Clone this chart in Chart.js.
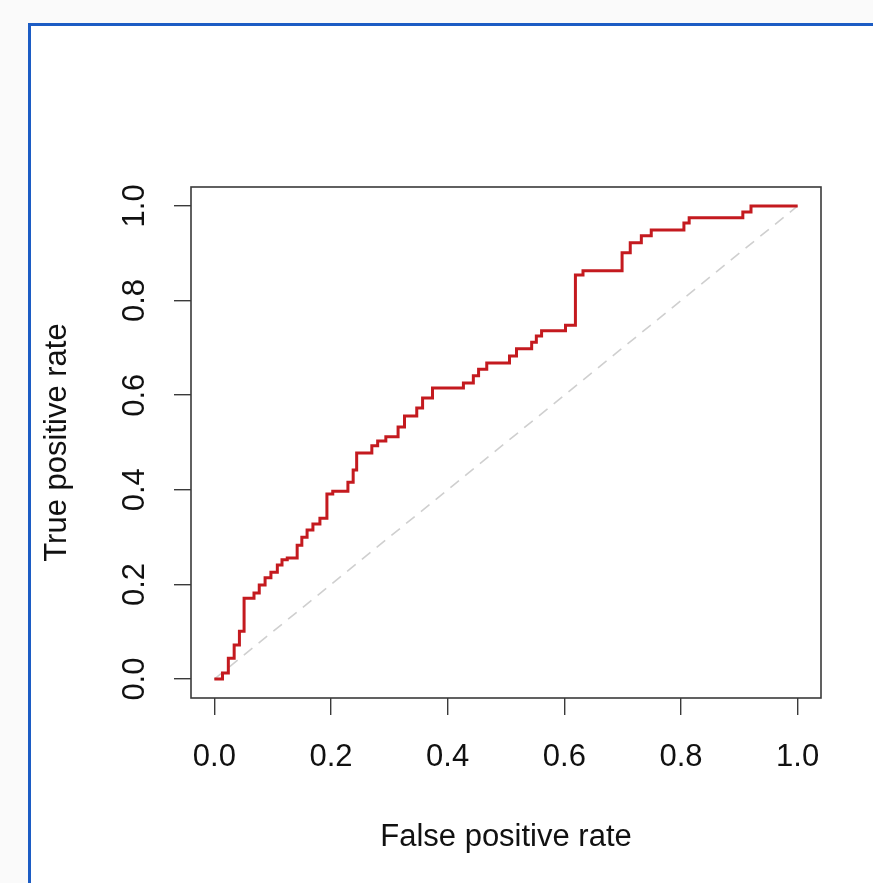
<!DOCTYPE html>
<html>
<head>
<meta charset="utf-8">
<script src="https://cdn.jsdelivr.net/npm/chart.js@4/dist/chart.umd.min.js"></script>
<style>
  html, body { margin: 0; padding: 0; background: #fafafa; overflow: hidden; }
  #frame {
    position: absolute; left: 28px; top: 23px; right: -10px; bottom: -10px;
    border: 3px solid #1c5cc4; background: #fff;
  }
  #roc { position: absolute; left: 0; top: 0; }
</style>
</head>
<body>
<div id="frame"></div>
<canvas id="roc" width="873" height="883"></canvas>
<script>
// ROC curve (corner points of the staircase)
const fpr = [0, 0.014, 0.024, 0.034, 0.043, 0.051, 0.068, 0.077, 0.087, 0.097, 0.108, 0.116,
  0.125, 0.142, 0.150, 0.159, 0.169, 0.181, 0.193, 0.203, 0.229, 0.238, 0.244, 0.270, 0.280,
  0.294, 0.315, 0.326, 0.347, 0.357, 0.374, 0.427, 0.444, 0.453, 0.467, 0.506, 0.518, 0.544,
  0.552, 0.561, 0.602, 0.619, 0.632, 0.699, 0.713, 0.732, 0.749, 0.805, 0.814, 0.906, 0.920, 1.0];
const tpr = [0, 0.013, 0.044, 0.072, 0.101, 0.171, 0.182, 0.199, 0.214, 0.226, 0.241, 0.252,
  0.256, 0.283, 0.300, 0.315, 0.328, 0.340, 0.391, 0.397, 0.416, 0.442, 0.478, 0.493, 0.503,
  0.512, 0.533, 0.556, 0.573, 0.594, 0.615, 0.626, 0.641, 0.655, 0.668, 0.683, 0.698, 0.712,
  0.725, 0.736, 0.748, 0.854, 0.863, 0.901, 0.922, 0.937, 0.949, 0.964, 0.975, 0.987, 1.0, 1.0];
const diagX = [0, 1];
const diagY = [0, 1];
const tickValues = [0, 0.2, 0.4, 0.6, 0.8, 1.0];
const xTitle = 'False positive rate';
const yTitle = 'True positive rate';

const FONT = 'Liberation Sans, Arial, sans-serif';

const boxPlugin = {
    id: 'rbox',
    afterDraw(chart) {
        const { ctx, chartArea: a } = chart;
        ctx.save();
        ctx.strokeStyle = '#3a3a3a';
        ctx.lineWidth = 1.6;
        ctx.strokeRect(a.left, a.top, a.right - a.left, a.bottom - a.top);
        ctx.restore();
    }
};

const fixTicks = s => { s.ticks = tickValues.map(v => ({ value: v })); };

new Chart(document.getElementById('roc'), {
    type: 'scatter',
    data: {
        datasets: [{
            data: fpr.map((x, i) => ({ x: x, y: tpr[i] })),
            showLine: true,
            stepped: 'before',
            borderColor: '#c41a1f',
            borderWidth: 3,
            pointRadius: 0,
            order: 0
        }, {
            data: diagX.map((x, i) => ({ x: x, y: diagY[i] })),
            showLine: true,
            borderColor: '#cfcfcf',
            borderWidth: 1.6,
            borderDash: [11, 8],
            pointRadius: 0,
            order: 1
        }]
    },
    options: {
        responsive: false,
        animation: false,
        layout: { padding: { left: 0, top: 187, right: 52, bottom: 0 } },
        plugins: { legend: { display: false }, tooltip: { enabled: false } },
        scales: {
            x: {
                type: 'linear',
                min: -0.04,
                max: 1.04,
                afterBuildTicks: fixTicks,
                afterFit: s => { s.height = 185; s.paddingLeft = 0; s.paddingRight = 0; },
                border: { display: false },
                grid: { drawOnChartArea: false, drawTicks: true, tickLength: 17, color: '#3a3a3a', lineWidth: 1.4 },
                ticks: {
                    autoSkip: false, maxRotation: 0, padding: 24,
                    color: '#111', font: { family: FONT, size: 31 },
                    callback: v => v.toFixed(1)
                },
                title: {
                    display: true, text: xTitle, color: '#111',
                    font: { family: FONT, size: 31 }, padding: { top: 0, bottom: 27 }
                }
            },
            y: {
                type: 'linear',
                min: -0.04,
                max: 1.04,
                afterBuildTicks: fixTicks,
                afterFit: s => { s.width = 191; s.paddingTop = 0; s.paddingBottom = 0; },
                border: { display: false },
                grid: { drawOnChartArea: false, drawTicks: true, tickLength: 17, color: '#3a3a3a', lineWidth: 1.4 },
                ticks: {
                    autoSkip: false, minRotation: 90, maxRotation: 90, crossAlign: 'center', padding: 17,
                    color: '#111', font: { family: FONT, size: 31 },
                    callback: v => v.toFixed(1)
                },
                title: {
                    display: true, text: yTitle, color: '#111',
                    font: { family: FONT, size: 31 }, padding: { top: 39, bottom: 0 }
                }
            }
        }
    },
    plugins: [boxPlugin]
});
</script>
</body>
</html>
